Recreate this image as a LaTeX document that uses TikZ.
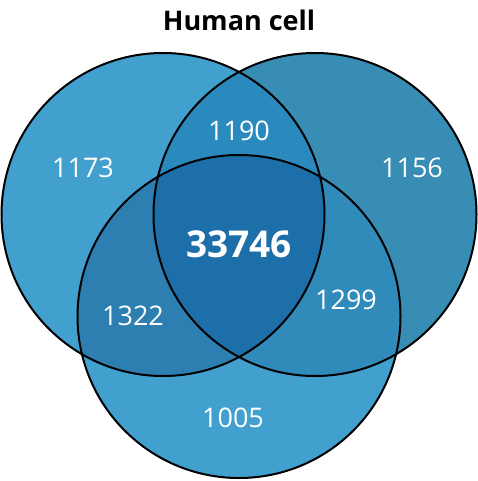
\documentclass[tikz,border=0pt]{standalone}
\usepackage{fontspec}
\setmainfont{Open Sans}
\definecolor{cL}{HTML}{42A0CF}
\definecolor{cR}{HTML}{378DB4}
\definecolor{cB}{HTML}{42A0CF}
\definecolor{cLR}{HTML}{2A8ABD}
\definecolor{cLB}{HTML}{2E7FB1}
\definecolor{cRB}{HTML}{308BBB}
\definecolor{cLRB}{HTML}{1C6FA8}
\tikzset{
  lbl/.style={text=white,font=\fontsize{27}{30}\selectfont,inner sep=0pt},
  ring/.style={draw=black,line width=2pt}
}
\begin{document}
\begin{tikzpicture}[x=1pt,y=-1pt]
\useasboundingbox (0,0) rectangle (478,481);
\def\rr{161.5}
\coordinate (L) at (163,214.5);
\coordinate (R) at (315,214.5);
\coordinate (B) at (239,316.5);
\fill[cL] (L) circle (\rr);
\fill[cR] (R) circle (\rr);
\fill[cB] (B) circle (\rr);
\begin{scope}
  \clip (L) circle (\rr);
  \fill[cLR] (R) circle (\rr);
  \fill[cLB] (B) circle (\rr);
\end{scope}
\begin{scope}
  \clip (R) circle (\rr);
  \fill[cRB] (B) circle (\rr);
\end{scope}
\begin{scope}
  \clip (L) circle (\rr);
  \clip (R) circle (\rr);
  \fill[cLRB] (B) circle (\rr);
\end{scope}
\draw[ring] (L) circle (\rr);
\draw[ring] (R) circle (\rr);
\draw[ring] (B) circle (\rr);
\node[font=\bfseries\fontsize{27}{30}\selectfont,inner sep=0pt] (title) at (239,20) {Human cell};
\node[lbl] (nL) at (83,168) {1173};
\node[lbl] (nLR) at (239,131) {1190};
\node[lbl] (nR) at (412,168) {1156};
\node[lbl,font=\bfseries\fontsize{37}{40}\selectfont] (nLRB) at (239,244) {33746};
\node[lbl] (nLB) at (133,316) {1322};
\node[lbl] (nRB) at (346,300) {1299};
\node[lbl] (nB) at (233,418) {1005};
\end{tikzpicture}
\end{document}
